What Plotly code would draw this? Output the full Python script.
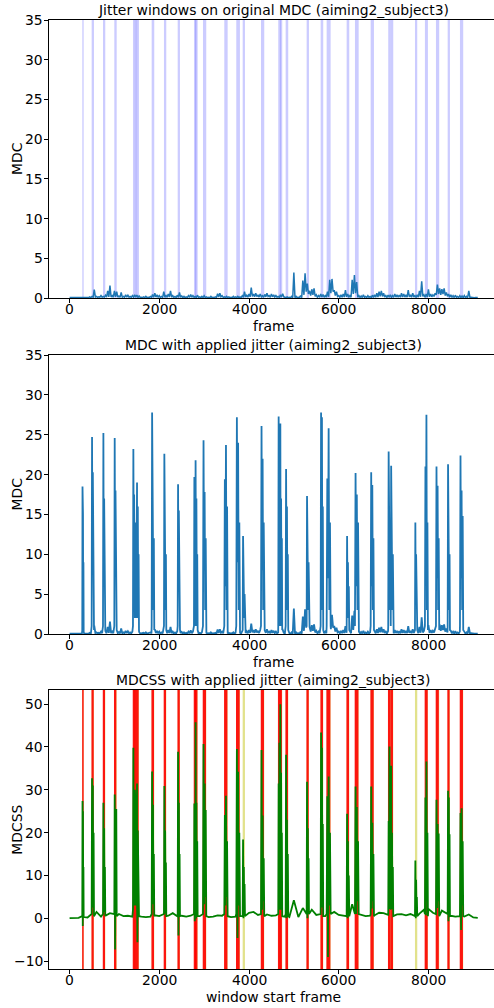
import plotly.graph_objects as go

# ---------------- data ----------------
# original MDC local peaks, sampled every 50 frames from 0 to 9100
base_step = 50
mdc_base = [
    0.05, 0.05, 0.1, 0.05, 0.05, 0.05, 0.1, 0.05, 0.1, 0.15,
    0.2, 1.05, 0.2, 0.15, 0.3, 0.2, 0.35, 0.9, 1.55, 0.3,
    0.9, 0.8, 0.25, 0.7, 0.2, 0.4, 0.35, 0.2, 0.3, 0.4,
    0.35, 0.25, 0.1, 0.15, 0.2, 0.1, 0.2, 0.45, 0.6, 0.4,
    0.3, 0.2, 0.8, 0.3, 0.5, 0.9, 0.3, 0.2, 0.35, 0.7,
    0.25, 0.2, 0.15, 0.3, 0.45, 0.3, 0.2, 0.35, 0.15, 0.2,
    0.3, 0.15, 0.1, 0.2, 0.1, 0.15, 0.55, 0.6, 0.3, 0.15,
    0.2, 0.15, 0.1, 0.2, 0.15, 0.2, 0.15, 0.3, 0.8, 0.35,
    0.5, 1.3, 0.5, 0.6, 0.4, 0.5, 0.3, 0.45, 0.6, 0.3,
    0.5, 0.4, 0.3, 0.2, 0.4, 0.55, 0.1, 0.15, 0.1, 0.2,
    3.2, 0.2, 0.1, 0.3, 2.2, 3.1, 1.8, 0.9, 1.1, 1.2,
    0.4, 0.3, 0.5, 0.45, 0.3, 0.8, 2.3, 2.4, 1.0, 0.8,
    0.3, 0.4, 0.5, 1.0, 0.5, 0.3, 2.3, 2.9, 2.0, 0.3,
    0.25, 0.4, 0.2, 0.3, 0.2, 0.35, 0.4, 0.6, 0.8, 0.9,
    0.6, 0.3, 0.35, 0.4, 0.3, 0.5, 0.4, 0.35, 0.6, 0.5,
    0.4, 1.0, 0.4, 0.6, 0.3, 0.4, 0.9, 2.1, 0.4, 0.5,
    1.1, 0.5, 0.4, 0.6, 1.7, 1.2, 1.1, 1.2, 0.7, 0.5,
    0.4, 0.3, 0.35, 0.2, 0.3, 0.25, 0.3, 0.2, 0.9, 0.1,
    0.05, 0.05, 0.05,
]

# original MDC local minima between those peaks (frames 25, 75, ..., 9075)
mdc_floor = [
    0.05, 0.04, 0.05, 0.05, 0.04, 0.05, 0.05, 0.04, 0.05, 0.06,
    0.1, 0.12, 0.08, 0.1, 0.1, 0.12, 0.1, 0.15, 0.12, 0.1,
    0.15, 0.1, 0.08, 0.1, 0.1, 0.12, 0.1, 0.08, 0.1, 0.12,
    0.08, 0.06, 0.05, 0.06, 0.05, 0.06, 0.08, 0.1, 0.12, 0.08,
    0.06, 0.08, 0.1, 0.1, 0.12, 0.1, 0.08, 0.06, 0.08, 0.1,
    0.06, 0.05, 0.06, 0.08, 0.1, 0.08, 0.06, 0.08, 0.05, 0.06,
    0.06, 0.05, 0.04, 0.05, 0.05, 0.06, 0.12, 0.15, 0.08, 0.05,
    0.06, 0.05, 0.04, 0.05, 0.06, 0.05, 0.06, 0.08, 0.12, 0.1,
    0.15, 0.2, 0.15, 0.18, 0.12, 0.15, 0.1, 0.15, 0.18, 0.1,
    0.15, 0.12, 0.1, 0.08, 0.12, 0.15, 0.05, 0.05, 0.04, 0.05,
    0.05, 0.05, 0.04, 0.05, 0.4, 0.8, 0.5, 0.3, 0.4, 0.2,
    0.1, 0.1, 0.12, 0.1, 0.1, 0.15, 0.6, 0.8, 0.3, 0.2,
    0.1, 0.1, 0.12, 0.15, 0.1, 0.1, 0.5, 0.6, 0.1, 0.08,
    0.06, 0.08, 0.06, 0.08, 0.06, 0.08, 0.1, 0.12, 0.2, 0.2,
    0.12, 0.08, 0.1, 0.1, 0.08, 0.12, 0.1, 0.1, 0.12, 0.12,
    0.1, 0.15, 0.1, 0.12, 0.08, 0.1, 0.15, 0.2, 0.1, 0.12,
    0.15, 0.15, 0.2, 0.4, 0.5, 0.4, 0.5, 0.3, 0.2, 0.1,
    0.08, 0.06, 0.08, 0.06, 0.06, 0.05, 0.06, 0.05, 0.1, 0.05,
    0.04, 0.04,
]

# MDCSS baseline, sampled every 100 frames from 0 to 9100
mdcss_step = 100
mdcss_base = [
    0.05, 0.1, 0.1, 0.2, 0.2, 0.4, 1.5, 0.4, 0.6, 1.2,
    0.8, 1.0, 0.5, 0.6, 0.4, 0.5, 0.4, 0.3, 0.4, 0.7,
    0.5, 0.9, 0.6, 1.2, 0.5, 0.6, 0.4, 0.6, 0.4, 0.5,
    0.4, 0.3, 0.4, 0.7, 0.6, 0.4, 0.3, 0.4, 0.5, 1.0,
    1.3, 1.5, 0.8, 0.7, 0.9, 0.6, 0.7, 0.5, 0.4, 0.3,
    4.2, 0.3, 2.4, 5.1, 2.0, 0.8, 0.6, 0.5, 2.5, 1.5,
    0.8, 0.6, 1.0, 3.3, 2.0, 0.8, 0.5, 0.6, 0.7, 1.3,
    1.2, 0.8, 0.6, 0.9, 1.0, 0.7, 1.0, 0.6, 1.1, 2.0,
    2.2, 1.3, 2.0, 1.8, 1.1, 0.6, 0.4, 0.5, 0.4, 0.9,
    0.2, 0.1,
]

# jitter windows (frames)
jit_start = [283, 492, 745, 997, 1413, 1455, 1495, 1830, 2104, 2410,
             2773, 2800, 2974, 3449, 3716, 3859, 4267, 4652, 4690, 4817,
             5285, 5597, 5731, 6177, 6362, 6712, 7104, 7160, 7700, 7922,
             8168, 8429, 8703]
jit_end = [314, 544, 796, 1050, 1465, 1505, 1547, 1888, 2156, 2461,
           2825, 2855, 3047, 3524, 3798, 3910, 4340, 4705, 4741, 4875,
           5337, 5655, 5820, 6235, 6445, 6786, 7160, 7216, 7751, 7989,
           8241, 8480, 8776]

# MDC values inside each jitter window (after jitter was applied)
jit_mdc = [
    [0.5, 18.5, 6, 15, 2, 9, 0.3],
    [1, 24.7, 8, 20.3, 3, 12, 0.5],
    [1, 25.2, 7, 17, 2, 10, 0.5],
    [1, 24.6, 9, 18, 3, 12, 0.5],
    [1, 23.2, 10, 17.5, 4, 12, 2],
    [2, 14, 6, 12, 4, 11, 2],
    [2, 19.0, 8, 16, 3, 10, 0.5],
    [1, 27.8, 9, 18, 3, 12, 0.5],
    [1, 22.6, 7, 20.3, 3, 10, 0.5],
    [1, 18.8, 6, 15.5, 2, 9, 0.5],
    [1, 19.7, 6, 14.8, 3, 9, 1],
    [1, 21.8, 7, 17, 3, 10, 0.5],
    [1, 24.3, 8, 17.8, 3, 12, 0.5],
    [1, 19.4, 6, 23.7, 3, 16, 0.5],
    [1, 27.2, 9, 24.0, 3, 14, 0.5],
    [0.5, 12.3, 4, 9, 2, 5, 0.5],
    [1, 26.1, 8, 22, 3, 14, 0.5],
    [1, 27.3, 9, 20, 3, 15, 1],
    [1, 26.4, 8, 17, 3, 12, 0.5],
    [1, 20.7, 7, 16, 3, 10, 0.5],
    [1, 17.3, 6, 13, 3, 9, 1],
    [1, 27.8, 9, 27.2, 3, 16, 0.5],
    [1, 19.5, 7, 25.8, 3, 14, 1],
    [0.5, 12.3, 4, 9, 2, 6, 0.5],
    [1, 20.2, 6, 17.5, 3, 14, 1],
    [1, 20.3, 6, 18.7, 3, 12, 0.5],
    [1, 22.9, 7, 15, 3, 11, 1],
    [1, 21.1, 7, 14.9, 3, 10, 0.5],
    [0.5, 14.0, 4, 10, 2, 6, 0.5],
    [1, 21.0, 7, 27.5, 3, 14, 0.5],
    [1, 21.0, 7, 18.6, 3, 12, 0.5],
    [1, 21.3, 7, 17, 3, 10, 0.5],
    [1, 22.4, 7, 18, 3, 14.8, 0.5],
]

# MDCSS values inside each jitter window
jit_mdcss = [
    [0.5, 27.4, -1.8, 25, 2, 12, 0.3],
    [1, 32.7, 2.5, 31, 5, 20, 0.5],
    [1, 27.0, 1.5, 21, 4, 12, 0.5],
    [1, 28.9, -7.3, 22.3, 3, 25.5, 0.5],
    [2, 39.8, 3, 20.6, 6, 30, 3],
    [3, 28, 5, 18, 4, 22, 3],
    [3, 31.5, -5.6, 20.5, 4, 14, 0.5],
    [1, 34.3, 3.3, 26.5, 5, 15, 0.5],
    [1, 30.9, 1.1, 20.5, 4, 13, 0.5],
    [1, 38.9, -4.0, 27, 3, 15, 0.5],
    [1, 26.8, -0.7, 24, 3, 12, 1],
    [1, 45.8, 0, 27, 4, 18, 0.5],
    [1, 40.7, 3.3, 31.5, 5, 25.3, 0.5],
    [1, 24.1, 3, 28.6, 5, 18, 0.5],
    [1, 39.5, -4.6, 34.2, 3, 20, 0.5],
    [0.5, 18.4, 0, 12, 2, 8, 0.5],
    [1, 39.3, 2, 24, 4, 14, 0.5],
    [1, 31.5, 5.3, 41, 6, 20.5, 2],
    [2, 50.0, 5.3, 34, 7, 20, 0.5],
    [1, 38.2, 0, 23, 4, 15, 0.5],
    [1, 31.9, 0, 21, 4, 14, 1],
    [1, 43.4, 2.5, 39.8, 5, 22, 0.5],
    [1, 28.5, -9.0, 33.1, 3, 20, 1],
    [0.5, 24.4, 0, 18, 2, 10, 0.5],
    [1, 30.8, 1.0, 26, 4, 18, 1],
    [1, 30.8, 2.3, 22.3, 4, 15, 0.5],
    [1, 22.7, 2.2, 40.1, 5, 25, 2],
    [2, 35.6, 2.2, 20, 4, 12, 0.5],
    [0.5, 13.5, 0, 9, 2, 5, 0.5],
    [1, 28.2, 0.7, 36.6, 4, 20, 0.5],
    [1, 27.7, 2.4, 22, 4, 19.8, 0.5],
    [1, 29.8, -0.7, 28.2, 3, 19.6, 0.5],
    [1, 24.6, -2.7, 25.7, 3, 18, 0.5],
]

# detected windows (red) in the MDCSS panel
det_start = [280, 488, 740, 990, 1408, 1450, 1490, 1825, 2098, 2405,
             2768, 2795, 2968, 3444, 3710, 4262, 4645, 4685, 4812,
             5280, 5592, 5725, 6172, 6356, 6706, 7098, 7155, 7916,
             8162, 8422, 8698]
det_end = [314, 538, 790, 1042, 1460, 1500, 1540, 1882, 2150, 2457,
           2820, 2850, 3042, 3518, 3792, 4334, 4700, 4734, 4870,
           5332, 5650, 5814, 6230, 6440, 6780, 7157, 7210, 7984,
           8232, 8472, 8770]

frame_ticks = [0, 2000, 4000, 6000, 8000]
mdc_ticks = [0, 5, 10, 15, 20, 25, 30, 35]
mdcss_ticks = [-10, 0, 10, 20, 30, 40, 50]

titles = [
    "Jitter windows on original MDC (aiming2_subject3)",
    "MDC with applied jitter (aiming2_subject3)",
    "MDCSS with applied jitter (aiming2_subject3)",
]
xlabels = ["frame", "frame", "window start frame"]
ylabels = ["MDC", "MDC", "MDCSS"]

# ---------------- build series ----------------
def mdc_series():
    pts = [(i * base_step, v) for i, v in enumerate(mdc_base)]
    pts += [(25 + i * base_step, v) for i, v in enumerate(mdc_floor)]
    pts.sort(key=lambda p: p[0])
    return pts


def step_series(vals, step):
    return [(i * step, v) for i, v in enumerate(vals)]


def merge_windows(pts, win_vals):
    out = [p for p in pts
           if not any(s <= p[0] <= e for s, e in zip(jit_start, jit_end))]
    for s, e, wv in zip(jit_start, jit_end, win_vals):
        n = len(wv)
        for k, v in enumerate(wv):
            out.append((s + k * (e - s) / (n - 1), v))
    out.sort(key=lambda p: p[0])
    return [p[0] for p in out], [p[1] for p in out]


top_pts = mdc_series()
x_top, y_top = [p[0] for p in top_pts], [p[1] for p in top_pts]
x_mid, y_mid = merge_windows(top_pts, jit_mdc)
x_bot, y_bot = merge_windows(step_series(mdcss_base, mdcss_step), jit_mdcss)

# ---------------- layout helpers ----------------
W, H = 494, 1008
FONT = "DejaVu Sans"
FS = 13.9


def py(px):
    return 1 - px / H


def pxx(px):
    return px / W


panels = [(20, 298), (355, 634), (690, 969.3)]
yranges = [[0, 35], [0, 35], [-11.9, 53.3]]
xrange_ = [-459, 9462]
left_px = 49

fig = go.Figure()

fig.add_trace(go.Scatter(x=x_top, y=y_top, mode="lines",
                         line=dict(color="#1f77b4", width=1.5),
                         xaxis="x", yaxis="y", showlegend=False))
fig.add_trace(go.Scatter(x=x_mid, y=y_mid, mode="lines",
                         line=dict(color="#1f77b4", width=1.8),
                         xaxis="x2", yaxis="y2", showlegend=False))
fig.add_trace(go.Scatter(x=x_bot, y=y_bot, mode="lines",
                         line=dict(color="#008000", width=1.8),
                         xaxis="x3", yaxis="y3", showlegend=False))

shapes = []
for s, e in zip(jit_start, jit_end):
    shapes.append(dict(type="rect", xref="x", yref="y domain", x0=s, x1=e,
                       y0=0, y1=1, fillcolor="rgba(0,0,255,0.2)",
                       line=dict(width=0), layer="below"))
for s, e in zip(jit_start, jit_end):
    shapes.append(dict(type="rect", xref="x3", yref="y3 domain", x0=s, x1=e,
                       y0=0, y1=1, fillcolor="rgba(191,191,0,0.45)",
                       line=dict(width=0), layer="below"))
for s, e in zip(det_start, det_end):
    shapes.append(dict(type="rect", xref="x3", yref="y3 domain", x0=s, x1=e,
                       y0=0, y1=1, fillcolor="rgba(255,0,0,0.9)",
                       line=dict(width=0), layer="below"))

annotations = []
axes = {}
tfont = dict(family=FONT, size=FS, color="black")
for i, ((top, bot), yr) in enumerate(zip(panels, yranges)):
    suf = "" if i == 0 else str(i + 1)
    yticks = mdcss_ticks if i == 2 else mdc_ticks
    axes["xaxis" + suf] = dict(
        domain=[pxx(left_px), 1], range=xrange_, anchor="y" + suf,
        tickvals=frame_ticks, showticklabels=False,
        ticks="outside", ticklen=4, tickwidth=1, tickcolor="black",
        showline=True, linecolor="black", linewidth=1, mirror=True,
        showgrid=False, zeroline=False,
    )
    axes["yaxis" + suf] = dict(
        domain=[py(bot), py(top)], range=yr, anchor="x" + suf,
        tickvals=yticks, showticklabels=False,
        ticks="outside", ticklen=4, tickwidth=1, tickcolor="black",
        showline=True, linecolor="black", linewidth=1,
        showgrid=False, zeroline=False,
    )
    for v in frame_ticks:
        annotations.append(dict(text=str(v), xref="x" + suf, yref="paper",
                                x=v, y=py(bot + 11), xanchor="center",
                                yanchor="middle", showarrow=False, font=tfont))
    for v in yticks:
        annotations.append(dict(text=str(v).replace("-", "\u2212"),
                                xref="paper", yref="y" + suf,
                                x=pxx(45), y=v, xanchor="right",
                                yanchor="middle", showarrow=False, font=tfont))
    annotations.append(dict(text=titles[i], xref="paper", yref="paper",
                            x=pxx(273), y=py(top - 10), xanchor="center",
                            yanchor="middle", showarrow=False, font=tfont))
    annotations.append(dict(text=xlabels[i], xref="paper", yref="paper",
                            x=pxx(273), y=py(bot + 28), xanchor="center",
                            yanchor="middle", showarrow=False, font=tfont))
    annotations.append(dict(text=ylabels[i], xref="paper", yref="paper",
                            x=pxx(17), y=py((top + bot) / 2), xanchor="center",
                            yanchor="middle", textangle=-90, showarrow=False,
                            font=tfont))

fig.update_layout(
    width=W, height=H,
    margin=dict(l=0, r=0, t=0, b=0),
    paper_bgcolor="white", plot_bgcolor="white",
    shapes=shapes, annotations=annotations,
    font=dict(family=FONT, size=FS, color="black"),
    **axes,
)

fig.write_html("out.html")
